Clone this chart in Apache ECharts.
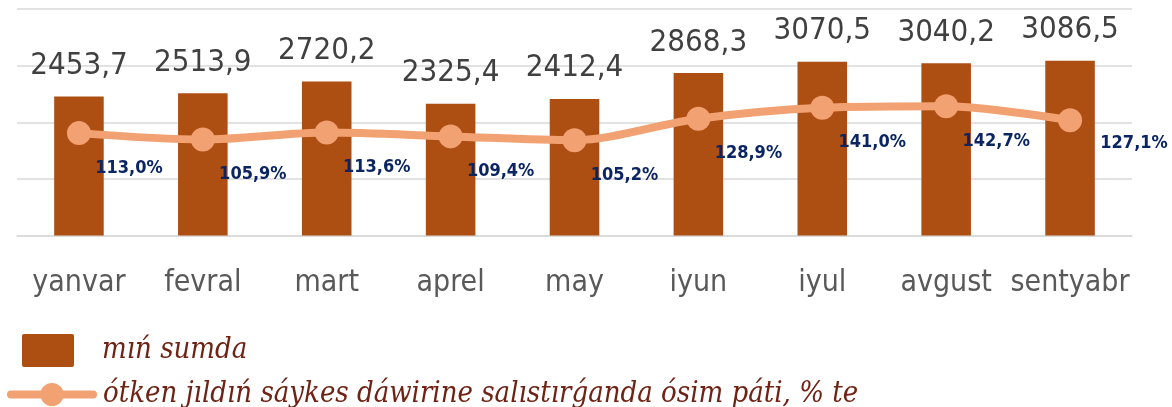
<!DOCTYPE html>
<html>
<head>
<meta charset="utf-8">
<style>
  html, body { margin: 0; padding: 0; background: #ffffff; }
  #chart { width: 1172px; height: 407px; }
</style>
<script src="https://cdn.jsdelivr.net/npm/echarts@6/dist/echarts.min.js"></script>
</head>
<body>
<div id="chart"></div>
<script>
// Monthly figures, thousand som, and year-on-year growth (%)
const months = ['yanvar', 'fevral', 'mart', 'aprel', 'may', 'iyun', 'iyul', 'avgust', 'sentyabr'];
const amounts = [2453.7, 2513.9, 2720.2, 2325.4, 2412.4, 2868.3, 3070.5, 3040.2, 3086.5];
const growth = [113.0, 105.9, 113.6, 109.4, 105.2, 128.9, 141.0, 142.7, 127.1];
const barName = 'mıń sumda';
const lineName = 'ótken jıldıń sáykes dáwirine salıstırǵanda ósim páti, % te';

const fmt = v => v.toFixed(1).replace('.', ',');

const chart = echarts.init(document.getElementById('chart'), null, { renderer: 'canvas' });

const labelFont = "'DejaVu Sans Condensed', 'DejaVu Sans', sans-serif";
const legendFont = "'DejaVu Serif Condensed', 'Liberation Serif', serif";
const lineColor = '#F2A172';
const barColor = '#AD4E12';

chart.setOption({
  animation: false,
  backgroundColor: '#ffffff',
  grid: { left: 17, right: 40, top: 9, bottom: 171.5, containLabel: false },
  legend: [
    {
      data: [barName],
      left: 22, top: 334, padding: 0,
      itemWidth: 52, itemHeight: 33,
      icon: 'path://M2,0 H50 Q52,0 52,2 V31 Q52,33 50,33 H2 Q0,33 0,31 V2 Q0,0 2,0 Z',
      itemStyle: { color: barColor },
      textStyle: { fontFamily: legendFont, fontStyle: 'italic', fontSize: 29, color: '#6E2314', padding: [0, 0, 0, 23] }
    },
    {
      data: [lineName],
      left: 7, top: 380, padding: 0,
      itemWidth: 82, itemHeight: 29,
      lineStyle: { width: 8, color: lineColor, cap: 'round' },
      itemStyle: { color: lineColor },
      textStyle: { fontFamily: legendFont, fontStyle: 'italic', fontSize: 29, color: '#6E2314', padding: [0, 0, 0, 5] }
    }
  ],
  xAxis: {
    type: 'category',
    data: months,
    axisLine: { show: true, lineStyle: { color: '#d9d9d9', width: 1.5 } },
    axisTick: { show: false },
    axisLabel: { interval: 0, fontFamily: labelFont, fontSize: 30, color: '#595959', margin: 33 }
  },
  yAxis: [
    {
      type: 'value', min: 0, max: 4000, interval: 1000,
      axisLabel: { show: false },
      axisLine: { show: false },
      axisTick: { show: false },
      splitLine: { lineStyle: { color: '#d9d9d9', width: 1.5 } }
    },
    {
      type: 'value', min: 0, max: 250,
      axisLabel: { show: false },
      axisLine: { show: false },
      axisTick: { show: false },
      splitLine: { show: false }
    }
  ],
  series: [
    {
      name: barName,
      type: 'bar',
      data: amounts,
      barWidth: '40%',
      itemStyle: { color: barColor },
      label: {
        show: true,
        position: 'top',
        distance: 15,
        formatter: p => fmt(p.value),
        fontFamily: labelFont,
        fontSize: 31,
        color: '#404040'
      }
    },
    {
      name: lineName,
      type: 'line',
      yAxisIndex: 1,
      data: growth.map((v, i) => ({
        value: v,
        label: i === growth.length - 1 ? { offset: [64, -12] } : undefined
      })),
      smooth: 0.3,
      symbol: 'circle',
      symbolSize: 24,
      lineStyle: { color: lineColor, width: 8 },
      itemStyle: { color: lineColor },
      z: 5,
      label: {
        show: true,
        position: 'bottom',
        distance: 14,
        offset: [50, 0],
        formatter: p => fmt(p.value) + '%',
        fontFamily: labelFont,
        fontWeight: 'bold',
        fontSize: 18,
        color: '#0B2563'
      }
    }
  ]
});
</script>
</body>
</html>
